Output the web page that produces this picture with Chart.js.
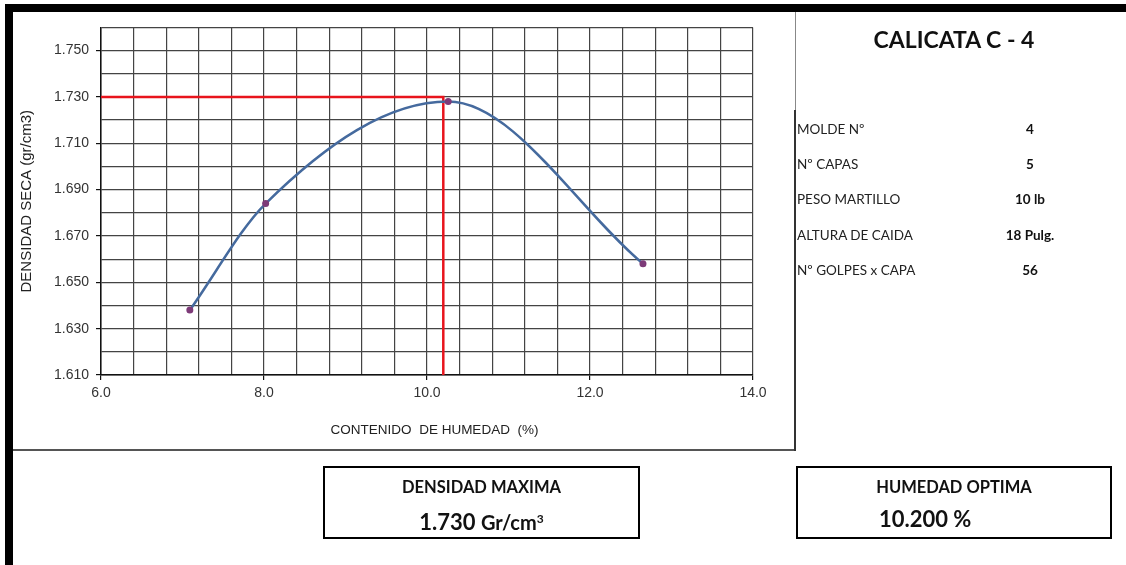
<!DOCTYPE html>
<html lang="es">
<head>
<meta charset="utf-8">
<title>Proctor - Calicata C-4</title>
<script src="https://cdn.jsdelivr.net/npm/chart.js@4/dist/chart.umd.min.js"></script>
<style>
  html, body { margin: 0; padding: 0; background: #fff; }
  #page { position: relative; width: 1126px; height: 565px; overflow: hidden; background: #fff; }
  .frame { position: absolute; left: 5px; top: 4px; width: 1118px; height: 554px;
           border-left: 8px solid #000; border-top: 8px solid #000; border-right: 3px solid #111; border-bottom: 7px solid #000;
           box-sizing: content-box; }
  .hline { position: absolute; left: 13px; top: 449px; width: 783px; height: 0; border-top: 2px solid #555; }
  .vline-top { position: absolute; left: 795px; top: 12px; width: 0; height: 100px; border-left: 1px solid #888; }
  .vline { position: absolute; left: 794px; top: 110px; width: 0; height: 341px; border-left: 2px solid #333; }
  #chartBox { position: absolute; left: 13px; top: 12px; width: 781px; height: 437px; }
  .panel { position: absolute; font-family: "Lato", "Open Sans", sans-serif; color: #111; }
  .title { left: 791px; width: 326px; top: 25px; text-align: center; font-size: 23px; font-weight: 700; }
  .row { left: 797px; width: 320px; height: 20px; font-size: 13.5px; }
  .row .lab { position: absolute; left: 0; top: 0; color: #222; }
  .row .val { position: absolute; left: 183px; width: 100px; top: 0; text-align: center; font-weight: 700; }
  .box { position: absolute; border: 2px solid #000; background: #fff; font-family: "Lato", "Open Sans", sans-serif; color: #111; }
  .box .head { position: absolute; left: 0; right: 0; top: 9px; text-align: center; font-size: 16.5px; font-weight: 700; }
  .box .num { position: absolute; top: 38px; font-size: 22px; font-weight: 700; line-height: 26px; }
  .box .num .unit { font-size: 20px; font-weight: 700; }
  .box .num sup { font-size: 12px; vertical-align: 7px; }
</style>
</head>
<body>
<div id="page">
  <div id="chartBox"><canvas id="proctor"></canvas></div>
  <div class="hline"></div>
  <div class="vline-top"></div>
  <div class="vline"></div>
  <div class="frame"></div>

  <div class="panel title">CALICATA C - 4</div>
  <div id="rows"></div>

  <div class="box" style="left:323px; top:466px; width:313px; height:69px;">
    <div class="head">DENSIDAD MAXIMA</div>
    <div class="num" id="densMax" style="left:0; right:0; text-align:center;"></div>
  </div>
  <div class="box" style="left:796px; top:466px; width:312px; height:69px;">
    <div class="head">HUMEDAD OPTIMA</div>
    <div class="num" id="humOpt" style="left:81px;"></div>
  </div>
</div>

<script>
// Ensayo Proctor: contenido de humedad (%) vs densidad seca (gr/cm3)
const humedad = [7.09, 8.02, 10.26, 12.65];
const densidadSeca = [1.638, 1.684, 1.728, 1.658];

// Resultados del ensayo
const densidadMaxima = 1.730;
const humedadOptima = 10.2;

// Ejes
const xMin = 6.0, xMax = 14.0, xGrid = 0.4, xLabelEvery = 2.0;
const yMin = 1.610, yMax = 1.760, yGrid = 0.010;

// Datos del molde
const datosLabels = ["MOLDE Nº", "Nº CAPAS", "PESO MARTILLO", "ALTURA DE CAIDA", "Nº GOLPES x CAPA"];
const datosValores = ["4", "5", "10 lb", "18 Pulg.", "56"];
const datosTops = [121, 156, 191, 227, 262];

// Panel de datos
const rowsEl = document.getElementById('rows');
datosLabels.forEach((lab, i) => {
  const r = document.createElement('div');
  r.className = 'panel row';
  r.style.top = datosTops[i] + 'px';
  r.innerHTML = '<span class="lab"></span><span class="val"></span>';
  r.querySelector('.lab').textContent = lab;
  r.querySelector('.val').textContent = datosValores[i];
  rowsEl.appendChild(r);
});
document.getElementById('densMax').innerHTML =
  densidadMaxima.toFixed(3) + ' <span class="unit">Gr/cm<sup>3</sup></span>';
document.getElementById('humOpt').textContent = humedadOptima.toFixed(3) + ' %';

const curva = humedad.map((x, i) => ({ x, y: densidadSeca[i] }));
const guia = [
  { x: xMin, y: densidadMaxima },
  { x: humedadOptima, y: densidadMaxima },
  { x: humedadOptima, y: yMin }
];

const isLabelX = v => Math.abs(v / xLabelEvery - Math.round(v / xLabelEvery)) < 1e-6;
const tickFont = { family: '"Liberation Sans", Arial, sans-serif', size: 14 };

new Chart(document.getElementById('proctor'), {
  type: 'scatter',
  data: {
    datasets: [
      {
        data: guia,
        showLine: true,
        borderColor: '#e8141c',
        borderWidth: 2.5,
        pointRadius: 0,
        tension: 0,
        order: 2
      },
      {
        data: curva,
        showLine: true,
        borderColor: '#456a9e',
        borderWidth: 2.5,
        cubicInterpolationMode: 'monotone',
        pointRadius: 3.5,
        pointBackgroundColor: '#7d3a78',
        pointBorderColor: '#7d3a78',
        pointBorderWidth: 0,
        order: 1
      }
    ]
  },
  options: {
    responsive: true,
    maintainAspectRatio: false,
    animation: false,
    events: [],
    layout: { padding: { top: 15, right: 41, left: 0, bottom: 0 } },
    plugins: { legend: { display: false }, tooltip: { enabled: false } },
    scales: {
      x: {
        type: 'linear',
        min: xMin, max: xMax,
        afterFit: s => { s.height = 74; },
        border: { color: '#111', width: 1.5 },
        grid: {
          color: '#444',
          lineWidth: 1.2,
          tickLength: 5,
          tickColor: c => (c.tick && isLabelX(c.tick.value) ? '#111' : 'rgba(0,0,0,0)')
        },
        ticks: {
          stepSize: xGrid,
          autoSkip: false,
          maxRotation: 0,
          color: '#333',
          font: tickFont,
          padding: 5,
          callback: v => (isLabelX(v) ? Number(v).toFixed(1) : '')
        },
        title: {
          display: true,
          text: '    CONTENIDO  DE HUMEDAD  (%)',
          color: '#222',
          font: { family: '"Liberation Sans", Arial, sans-serif', size: 13.5 },
          padding: { top: 0, bottom: 11 }
        }
      },
      y: {
        type: 'linear',
        min: yMin, max: yMax,
        afterFit: s => { s.width = 88; },
        border: { color: '#111', width: 1.5 },
        grid: {
          color: '#444',
          lineWidth: 1.2,
          tickLength: 5,
          tickColor: c => (c.index % 2 === 0 ? '#111' : 'rgba(0,0,0,0)')
        },
        ticks: {
          stepSize: yGrid,
          autoSkip: false,
          color: '#333',
          font: tickFont,
          padding: 7,
          callback: (v, i) => (i % 2 === 0 ? Number(v).toFixed(3) : '')
        },
        title: {
          display: true,
          text: 'DENSIDAD SECA (gr/cm3)',
          color: '#222',
          font: { family: '"Liberation Sans", Arial, sans-serif', size: 15 },
          padding: { top: 5, bottom: 0 }
        }
      }
    }
  }
});
</script>
</body>
</html>
